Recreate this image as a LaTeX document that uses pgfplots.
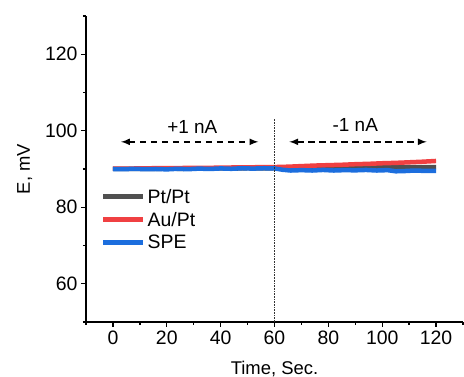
\documentclass[border=0pt]{standalone}
\usepackage{pgfplots}
\pgfplotsset{compat=1.18}
\usepackage{fontspec}
\setmainfont{Liberation Sans}
\definecolor{cgray}{RGB}{80,80,80}
\definecolor{cred}{RGB}{240,64,66}
\definecolor{cblue}{RGB}{28,110,222}
\begin{document}
\begin{tikzpicture}
\begin{axis}[
  scale only axis,
  width=377bp, height=306bp,
  xmin=-10, xmax=130, ymin=50, ymax=130,
  axis x line*=bottom, axis y line*=left,
  axis line style={line width=1.5bp},
  xtick={0,20,...,120}, ytick={60,80,100,120},
  minor xtick={-10,10,30,50,70,90,110,130},
  minor ytick={50,70,90,110,130},
  tick align=outside,
  major tick length=5bp, minor tick length=3bp,
  tick style={line width=1.3bp, black},
  /pgf/number format/assume math mode=true,
  tick label style={font=\fontsize{19.5}{22}\selectfont},
  xlabel={Time, Sec.}, ylabel={E, mV},
  label style={font=\fontsize{18.5}{20}\selectfont},
  xlabel style={yshift=-10bp},
  ylabel style={yshift=6bp},
  legend style={draw=none, fill=none, at={(axis cs:-5,85.6)}, anchor=north west,
    font=\fontsize{19.5}{21}\selectfont, row sep=3.5bp, inner sep=1bp},
  legend cell align=left,
  legend image code/.code={\draw[#1, line width=5bp] (0bp,0bp) -- (40bp,0bp);},
  clip=false,
]
\addplot[cgray, line width=4.5bp] coordinates {
(0,90.0) (5,90.0) (10,90.05) (15,90.0) (20,90.1) (25,90.05) (30,90.1) (35,90.1) (40,90.15) (45,90.1) (50,90.2) (55,90.15) (60,90.2)
(65,90.2) (70,90.25) (75,90.3) (80,90.3) (85,90.35) (90,90.35) (95,90.4) (100,90.4) (105,90.5) (110,90.5) (115,90.5) (120,90.5)};
\addlegendentry{Pt/Pt}
\addplot[cred, line width=4.5bp] coordinates {
(0,90.1) (5,90.1) (10,90.15) (15,90.2) (20,90.2) (25,90.25) (30,90.3) (35,90.3) (40,90.35) (45,90.4) (50,90.4) (55,90.5) (60,90.5)
(65,90.6) (70,90.75) (75,90.9) (80,91.0) (85,91.1) (90,91.25) (95,91.35) (100,91.5) (105,91.6) (110,91.75) (115,91.9) (120,92.1)};
\addlegendentry{Au/Pt}
\addplot[cblue, line width=4.5bp] coordinates {
(0,90.0) (4,89.95) (8,90.05) (12,89.95) (16,90.0) (20,89.9) (24,90.05) (28,89.95) (32,90.1) (36,90.0) (40,90.15) (44,90.05) (48,90.2) (52,90.1) (56,90.2) (60,90.15)
(63,89.8) (66,89.6) (70,89.7) (74,89.6) (78,89.75) (82,89.6) (86,89.7) (90,89.65) (94,89.75) (98,89.6) (102,89.7) (105,89.4) (108,89.45) (112,89.6) (116,89.5) (120,89.5)};
\addlegendentry{SPE}
\draw[densely dotted, line width=0.6bp, black!80] (axis cs:60,50) -- (axis cs:60,103.3);
\draw[line width=2bp, dash pattern=on 6.5bp off 4.5bp, latex-latex] (axis cs:3,97.1) -- (axis cs:54,97.1);
\draw[line width=2bp, dash pattern=on 6.5bp off 4.5bp, latex-latex] (axis cs:65.5,97.1) -- (axis cs:116.5,97.1);
\node[font=\fontsize{19}{20}\selectfont] at (axis cs:29.5,101.0) {+1 nA};
\node[font=\fontsize{19}{20}\selectfont] at (axis cs:90,101.5) {-1 nA};
\end{axis}
\pgfresetboundingbox
\path[use as bounding box] ([xshift=-86bp,yshift=-55bp]current axis.south west) rectangle ([xshift=1bp,yshift=16bp]current axis.north east);
\end{tikzpicture}
\end{document}
